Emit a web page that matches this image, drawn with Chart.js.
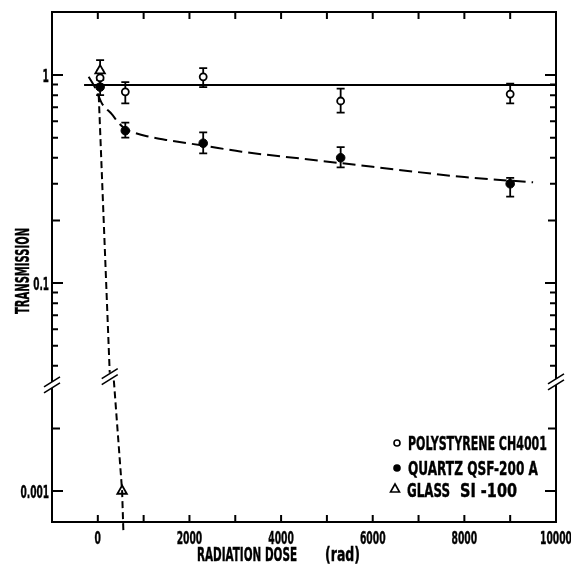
<!DOCTYPE html>
<html lang="en">
<head>
<meta charset="UTF-8">
<title>Transmission vs radiation dose</title>
<script src="https://cdn.jsdelivr.net/npm/chart.js"></script>
<style>
  html, body { margin: 0; padding: 0; background: #fff; }
</style>
</head>
<body>
<canvas id="myChart" width="571" height="569"></canvas>
<script>
// measured points: dose (rad), transmission, error bar low / high
const polyDose = [50, 600, 2300, 5300, 9000];
const polyTrans = [0.97, 0.83, 0.98, 0.75, 0.81];
const polyLow = [0.90, 0.73, 0.875, 0.66, 0.73];
const polyHigh = [1.05, 0.925, 1.08, 0.86, 0.91];

const quartzDose = [50, 600, 2300, 5300, 9000];
const quartzTrans = [0.875, 0.54, 0.47, 0.40, 0.30];
const quartzLow = [0.80, 0.50, 0.42, 0.36, 0.26];
const quartzHigh = [0.95, 0.59, 0.53, 0.45, 0.32];

const glassDose = [50, 530];
const glassTrans = [1.05, 0.001];
const glassLow = [0.95, null];
const glassHigh = [1.18, null];

// drawn curves
const polyFitDose = [-300, 10000];
const polyFitTrans = [0.895, 0.895];
const quartzFitDose = [-200, -60, 90, 300, 450, 600, 800, 1070, 1500, 2300, 3140, 4500, 6000, 8000, 9500];
const quartzFitTrans = [0.98, 0.87, 0.73, 0.65, 0.59, 0.55, 0.528, 0.508, 0.487, 0.458, 0.428, 0.395, 0.362, 0.323, 0.305];
const glassFitUpperDose = [20, 260];
const glassFitUpperTrans = [0.80, 0.037];
const glassFitLowerDose = [350, 530, 560];
const glassFitLowerTrans = [0.0034, 0.001, 0.00062];

// axes
const xTicks = [0, 1000, 2000, 3000, 4000, 5000, 6000, 7000, 8000, 9000];
const xLabels = [0, 2000, 4000, 6000, 8000, 10000];
const yMinorTicks = [0.04, 0.05, 0.06, 0.07, 0.08, 0.09, 0.3, 0.4, 0.5, 0.6, 0.7, 0.8, 0.9];
const yMidTicks = [0.2, 0.002];
const yMajorTicks = [1, 0.1, 0.001];
const yLabels = ['1', '0.1', '0.001'];

// broken log axis: values below 0.01 sit one decade higher
const BREAK_T = -1.475;
function tf(v) {
    return v < 0.01 ? Math.log10(v) + 1 : Math.log10(v);
}
const pts = (xs, ys) => xs.map((x, i) => ({ x: x, y: tf(ys[i]) }));

const FONT = '"Liberation Sans Narrow", "DejaVu Sans Condensed", "DejaVu Sans", sans-serif';

function squeeze(ctx, text, x, y, size, width, align) {
    ctx.save();
    ctx.font = 'bold ' + size + 'px ' + FONT;
    const w = ctx.measureText(text).width;
    const sx = width / w;
    ctx.translate(x, y);
    ctx.scale(sx, 1);
    ctx.textAlign = align;
    ctx.textBaseline = 'alphabetic';
    ctx.lineWidth = 0.4;
    ctx.strokeStyle = '#000';
    ctx.fillText(text, 0, 0);
    ctx.strokeText(text, 0, 0);
    ctx.restore();
}

function breakMark(ctx, x, y) {
    ctx.save();
    ctx.fillStyle = '#fff';
    ctx.beginPath();
    ctx.moveTo(x - 8, y + 2); ctx.lineTo(x + 8, y - 8);
    ctx.lineTo(x + 8, y - 2); ctx.lineTo(x - 8, y + 8);
    ctx.closePath();
    ctx.fill();
    ctx.strokeStyle = '#000';
    ctx.lineWidth = 1.6;
    ctx.beginPath();
    ctx.moveTo(x - 8, y + 2); ctx.lineTo(x + 8, y - 8);
    ctx.moveTo(x - 8, y + 8); ctx.lineTo(x + 8, y - 2);
    ctx.stroke();
    ctx.restore();
}

const errorBars = {
    id: 'errorBars',
    beforeDatasetsDraw(chart) {
        const ctx = chart.ctx;
        const xs = chart.scales.x, ys = chart.scales.y;
        const sets = [[polyDose, polyLow, polyHigh], [quartzDose, quartzLow, quartzHigh], [glassDose, glassLow, glassHigh]];
        ctx.save();
        ctx.strokeStyle = '#000';
        ctx.lineWidth = 1.8;
        sets.forEach(([d, lo, hi]) => {
            d.forEach((x, i) => {
                if (lo[i] == null) return;
                const px = xs.getPixelForValue(x);
                const y1 = ys.getPixelForValue(tf(lo[i]));
                const y2 = ys.getPixelForValue(tf(hi[i]));
                ctx.beginPath();
                ctx.moveTo(px, y1); ctx.lineTo(px, y2);
                ctx.moveTo(px - 4, y1); ctx.lineTo(px + 4, y1);
                ctx.moveTo(px - 4, y2); ctx.lineTo(px + 4, y2);
                ctx.stroke();
            });
        });
        ctx.restore();
    }
};

const frame = {
    id: 'frame',
    afterDraw(chart) {
        const ctx = chart.ctx;
        const a = chart.chartArea;
        const xs = chart.scales.x, ys = chart.scales.y;
        ctx.save();
        ctx.strokeStyle = '#000';
        ctx.fillStyle = '#000';
        ctx.lineWidth = 2;
        ctx.strokeRect(a.left, a.top, a.right - a.left, a.bottom - a.top);

        // inward ticks
        ctx.beginPath();
        xTicks.forEach(v => {
            const px = xs.getPixelForValue(v);
            ctx.moveTo(px, a.bottom); ctx.lineTo(px, a.bottom - 7);
            ctx.moveTo(px, a.top); ctx.lineTo(px, a.top + 7);
        });
        const yt = (list, len) => list.forEach(v => {
            const py = ys.getPixelForValue(tf(v));
            ctx.moveTo(a.left, py); ctx.lineTo(a.left + len, py);
            ctx.moveTo(a.right, py); ctx.lineTo(a.right - len, py);
        });
        yt(yMinorTicks, 6);
        yt(yMidTicks, 8);
        yt(yMajorTicks, 11);
        ctx.stroke();

        // axis breaks
        const by = ys.getPixelForValue(BREAK_T);
        breakMark(ctx, a.left, by + 3);
        breakMark(ctx, a.right, by);
        breakMark(ctx, xs.getPixelForValue(260), ys.getPixelForValue(-1.45));

        // tick labels
        ctx.fillStyle = '#000';
        xLabels.forEach(v => {
            const s = String(v);
            squeeze(ctx, s, xs.getPixelForValue(v), 544, 18, 6.4 * s.length, 'center');
        });
        yMajorTicks.forEach((v, i) => {
            const s = yLabels[i];
            const w = s.replace('.', '').length * 6.4 + (s.includes('.') ? 3 : 0);
            squeeze(ctx, s, 49, ys.getPixelForValue(tf(v)) + 7, 18, w, 'right');
        });

        // axis titles
        squeeze(ctx, 'RADIATION DOSE', 197, 561, 19, 100, 'left');
        squeeze(ctx, '(rad)', 325, 561, 19, 35, 'left');
        ctx.save();
        ctx.translate(29, 271);
        ctx.rotate(-Math.PI / 2);
        squeeze(ctx, 'TRANSMISSION', 0, 0, 19, 86, 'center');
        ctx.restore();

        // legend
        ctx.lineWidth = 1.6;
        ctx.beginPath();
        ctx.arc(397, 443, 3, 0, Math.PI * 2);
        ctx.stroke();
        ctx.beginPath();
        ctx.arc(397, 468, 3.8, 0, Math.PI * 2);
        ctx.fill();
        ctx.beginPath();
        ctx.moveTo(395, 484); ctx.lineTo(399.5, 492); ctx.lineTo(390.5, 492);
        ctx.closePath();
        ctx.stroke();
        squeeze(ctx, 'POLYSTYRENE CH4001', 408, 450, 19, 139, 'left');
        squeeze(ctx, 'QUARTZ QSF-200 A', 408, 475, 19, 130, 'left');
        squeeze(ctx, 'GLASS', 407, 497, 19, 43, 'left');
        squeeze(ctx, 'SI -100', 460, 497, 19, 57, 'left');
        ctx.restore();
    }
};

const ctx = document.getElementById('myChart').getContext('2d');
const myChart = new Chart(ctx, {
    type: 'scatter',
    data: {
        datasets: [
            {
                label: 'polystyrene fit',
                data: pts(polyFitDose, polyFitTrans),
                showLine: true, pointRadius: 0,
                borderColor: '#000', borderWidth: 2
            },
            {
                label: 'quartz fit',
                data: pts(quartzFitDose, quartzFitTrans),
                showLine: true, pointRadius: 0, cubicInterpolationMode: 'monotone',
                borderColor: '#000', borderWidth: 2, borderDash: [13, 6]
            },
            {
                label: 'glass fit upper',
                data: pts(glassFitUpperDose, glassFitUpperTrans),
                showLine: true, pointRadius: 0,
                borderColor: '#000', borderWidth: 2, borderDash: [7, 4]
            },
            {
                label: 'glass fit lower',
                data: pts(glassFitLowerDose, glassFitLowerTrans),
                showLine: true, pointRadius: 0,
                borderColor: '#000', borderWidth: 2, borderDash: [7, 4],
                clip: { left: 0, top: 0, right: 0, bottom: 12 }
            },
            {
                label: 'POLYSTYRENE CH4001',
                data: pts(polyDose, polyTrans),
                pointStyle: 'circle', pointRadius: 3.5,
                backgroundColor: '#fff', borderColor: '#000', borderWidth: 1.8
            },
            {
                label: 'QUARTZ QSF-200 A',
                data: pts(quartzDose, quartzTrans),
                pointStyle: 'circle', pointRadius: 4.3,
                backgroundColor: '#000', borderColor: '#000', borderWidth: 1
            },
            {
                label: 'GLASS SI-100',
                data: pts(glassDose, glassTrans),
                pointStyle: 'triangle', pointRadius: 5.5,
                backgroundColor: '#fff', borderColor: '#000', borderWidth: 1.8
            }
        ]
    },
    options: {
        responsive: false,
        animation: false,
        devicePixelRatio: 1,
        layout: { padding: { left: 52, top: 12, right: 15, bottom: 47 } },
        scales: {
            x: { type: 'linear', min: -1000, max: 10000, display: false },
            y: { type: 'linear', min: -2.149, max: 0.303, display: false }
        },
        plugins: {
            legend: { display: false },
            tooltip: { enabled: false }
        }
    },
    plugins: [errorBars, frame]
});
</script>
</body>
</html>
